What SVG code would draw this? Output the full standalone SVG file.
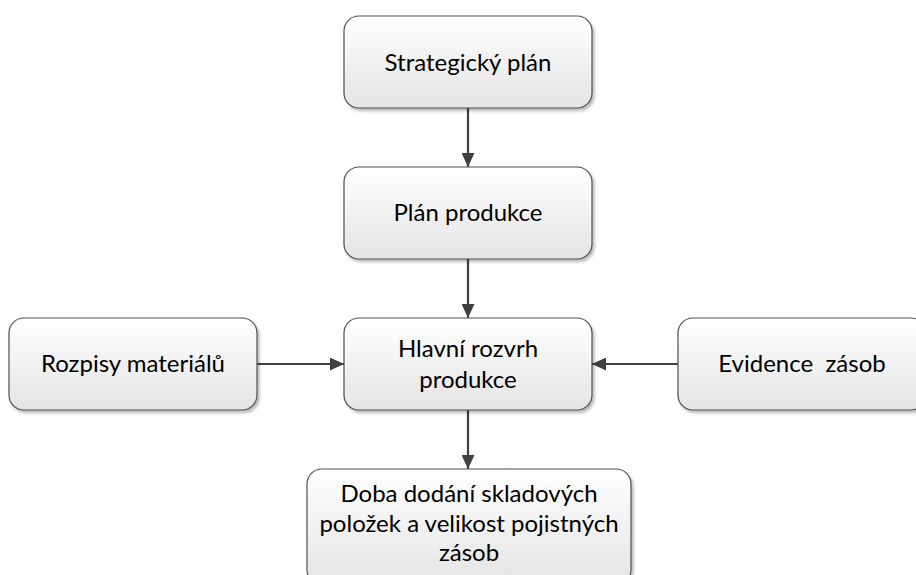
<svg xmlns="http://www.w3.org/2000/svg" width="916" height="575" viewBox="0 0 916 575">
  <defs>
    <linearGradient id="g" x1="0" y1="0" x2="0" y2="1">
      <stop offset="0" stop-color="#ffffff"/>
      <stop offset="1" stop-color="#e4e4e4"/>
    </linearGradient>
    <filter id="sh" x="-10%" y="-10%" width="125%" height="130%">
      <feDropShadow dx="2" dy="2.5" stdDeviation="1.5" flood-color="#000" flood-opacity="0.28"/>
    </filter>
    <marker id="ah" viewBox="0 0 14 13" refX="14" refY="6.5" markerWidth="14" markerHeight="13" markerUnits="userSpaceOnUse" orient="auto">
      <path d="M0,0 L14,6.5 L0,13 Z" fill="#404040"/>
    </marker>
    <style>
      .box { fill: url(#g); stroke: #505050; stroke-width: 1.2; filter: url(#sh); }
      .lbl { font-family: "Lato", "Liberation Sans", sans-serif; font-size: 24px; fill: #000; text-anchor: middle; }
      .con { stroke: #404040; stroke-width: 2.2; fill: none; marker-end: url(#ah); }
    </style>
  </defs>
  <rect width="916" height="575" fill="#ffffff"/>

  <g id="connectors">
    <line class="con" x1="468" y1="108" x2="468" y2="167"/>
    <line class="con" x1="468" y1="259" x2="468" y2="318"/>
    <line class="con" x1="257" y1="364" x2="344" y2="364"/>
    <line class="con" x1="678" y1="364" x2="592" y2="364"/>
    <line class="con" x1="468" y1="410" x2="468" y2="469"/>
  </g>

  <g id="strategicky-plan">
    <rect class="box" x="344" y="16" width="248" height="92" rx="15" ry="15"/>
    <text class="lbl" x="468" y="71">Strategický plán</text>
  </g>

  <g id="plan-produkce">
    <rect class="box" x="344" y="167" width="248" height="92" rx="15" ry="15"/>
    <text class="lbl" x="468" y="221">Plán produkce</text>
  </g>

  <g id="hlavni-rozvrh">
    <rect class="box" x="344" y="318" width="248" height="92" rx="15" ry="15"/>
    <text class="lbl" x="468" y="357">Hlavní rozvrh</text>
    <text class="lbl" x="468" y="388">produkce</text>
  </g>

  <g id="rozpisy-materialu">
    <rect class="box" x="9" y="318" width="248" height="92" rx="15" ry="15"/>
    <text class="lbl" x="133" y="372">Rozpisy materiálů</text>
  </g>

  <g id="evidence-zasob">
    <rect class="box" x="678" y="318" width="248" height="92" rx="15" ry="15"/>
    <text class="lbl" x="802" y="372" xml:space="preserve">Evidence  zásob</text>
  </g>

  <g id="doba-dodani">
    <rect class="box" x="307" y="469" width="324" height="116" rx="15" ry="15"/>
    <text class="lbl" x="469" y="502">Doba dodání skladových</text>
    <text class="lbl" x="469" y="532">položek a velikost pojistných</text>
    <text class="lbl" x="469" y="561">zásob</text>
  </g>
</svg>
